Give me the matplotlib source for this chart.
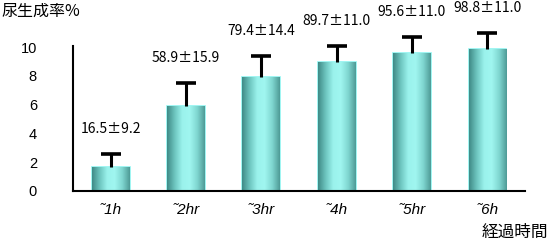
import numpy as np
import matplotlib.pyplot as plt
from matplotlib.colors import LinearSegmentedColormap

plt.rcParams['font.family'] = ['Noto Sans CJK JP', 'DejaVu Sans']

# data
periods = ['˜1h', '˜2hr', '˜3hr', '˜4h', '˜5hr', '˜6h']
means = [16.5, 58.9, 79.4, 89.7, 95.6, 98.8]
sds = [9.2, 15.9, 14.4, 11.0, 11.0, 11.0]

vals = np.array(means) / 10.0
errs = np.array(sds) / 10.0
x = np.arange(len(periods))

fig = plt.figure(figsize=(5.5, 2.43), dpi=100)
ax = fig.add_axes([73/550, 1 - 191/243, (525 - 73)/550, (191 - 47)/243])

bars = ax.bar(x, vals, width=0.5, color='#8ef0ea', edgecolor='#8ff4f0',
              linewidth=1.2, zorder=2)

# cylinder-like shading inside each bar
cmap = LinearSegmentedColormap.from_list(
    'cyl', ['#3f8a86', '#6cc4be', '#9af2ec', '#a0f6f0', '#7fd6d0', '#4e9a96'])
grad = np.linspace(0, 1, 256).reshape(1, -1)
for b in bars:
    x0, y0 = b.get_x(), b.get_y()
    w, h = b.get_width(), b.get_height()
    im = ax.imshow(grad, cmap=cmap, aspect='auto',
                   extent=[x0, x0 + w, y0, y0 + h], zorder=2.5)
    im.set_clip_path(b)

eb = ax.errorbar(x, vals, yerr=[np.zeros_like(errs), errs], fmt='none',
                 ecolor='black', elinewidth=2.2, capsize=7, capthick=2.6,
                 zorder=3)
_, caps, lines = eb
caps[0].set_visible(False)  # no lower cap
for c in caps:
    c.set_clip_on(False)
for l in lines:
    l.set_clip_on(False)

for xi, v, e, m, s in zip(x, vals, errs, means, sds):
    ax.annotate(f'{m:.1f}±{s:.1f}', (xi, v + e), xytext=(0, 13),
                textcoords='offset points', ha='center', va='bottom',
                fontsize=10, annotation_clip=False)

ax.set_xlim(-0.5, 5.5)
ax.set_ylim(0, 10)
ax.set_yticks([0, 2, 4, 6, 8, 10])
ax.set_xticks(x)
ax.set_xticklabels(periods, fontstyle='italic', fontsize=11,
                   family=['Liberation Sans', 'DejaVu Sans'])
for lab in ax.get_yticklabels():
    lab.set_fontsize(10.5)
    lab.set_family(['Liberation Sans', 'DejaVu Sans'])
ax.tick_params(axis='y', length=0, pad=26)
ax.tick_params(axis='x', length=0, pad=9)

ax.spines['top'].set_visible(False)
ax.spines['right'].set_visible(False)
ax.spines['left'].set_linewidth(1.5)
ax.spines['bottom'].set_linewidth(1.5)
ax.spines['left'].set_bounds(0, 10.1)
ax.set_facecolor('none')

fig.text(0.002, 1 - 11/243, '尿生成率%', fontsize=11.5, va='center', ha='left')
fig.text(548/550, 1 - 232/243, '経過時間', fontsize=12, va='center', ha='right')

fig.savefig('out.png', dpi=100)
